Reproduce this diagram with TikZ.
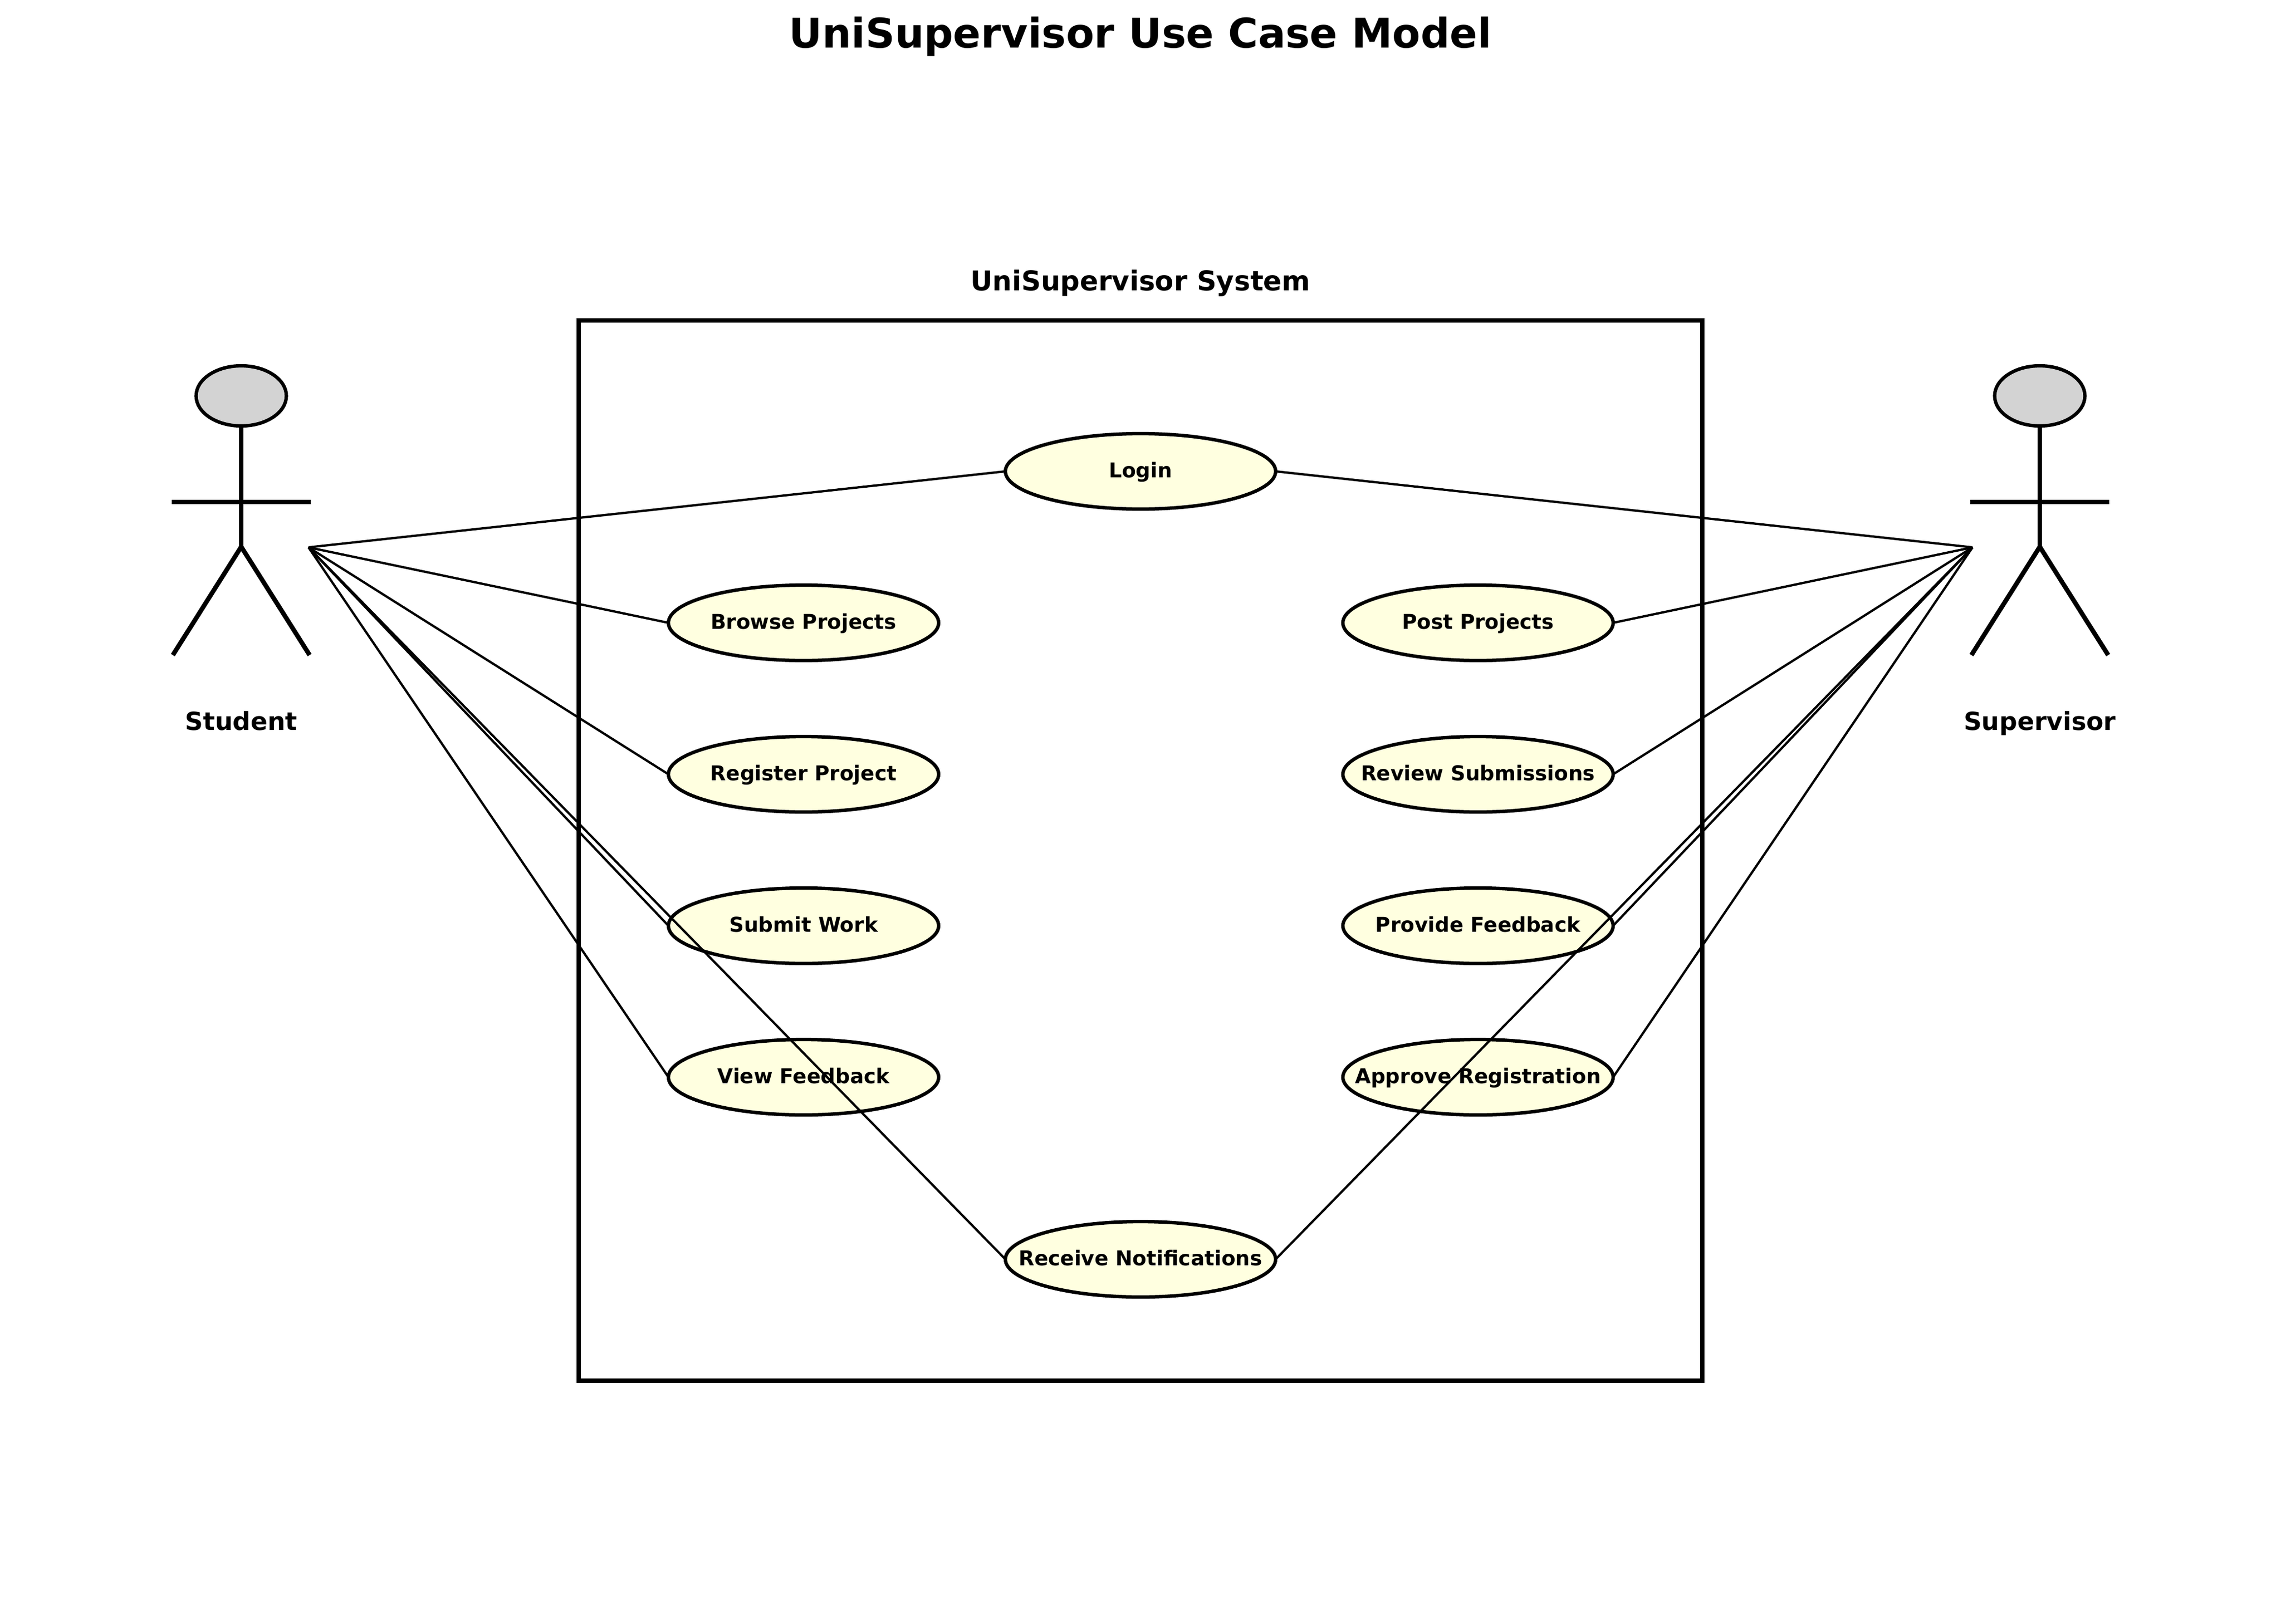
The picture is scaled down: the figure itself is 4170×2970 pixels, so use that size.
\documentclass[tikz,border=0pt]{standalone}
\usepackage{fontspec}
\usetikzlibrary{shapes.geometric}
\setmainfont{DejaVu Sans}
\definecolor{caseyellow}{HTML}{FFFFE0}
\definecolor{headgray}{HTML}{D3D3D3}
\tikzset{
  x=0.24bp, y=-0.24bp,
  usecase/.style={ellipse, draw=black, fill=caseyellow, line width=1.5bp, inner sep=0pt, outer sep=0pt,
    minimum width=118.56bp, minimum height=33.12bp},
  casetext/.style={font=\fontsize{9}{11}\selectfont\bfseries, inner sep=0pt, anchor=base, yshift=-2.76bp},
  head/.style={ellipse, draw=black, fill=headgray, line width=1.5bp, inner sep=0pt, outer sep=0pt,
    minimum width=39.6bp, minimum height=26.4bp},
  sysbox/.style={rectangle, draw=black, line width=2bp, inner sep=0pt, outer sep=0pt,
    minimum width=492.96bp, minimum height=465.36bp},
  limb/.style={draw=black, line width=2bp},
  assoc/.style={draw=black, line width=1bp},
  lab/.style={font=\fontsize{11}{13}\selectfont\bfseries, inner sep=0pt, anchor=base},
  syslab/.style={font=\fontsize{12}{14}\selectfont\bfseries, inner sep=0pt},
  titlelab/.style={font=\fontsize{18}{22}\selectfont\bfseries, inner sep=0pt}
}
\begin{document}
\begin{tikzpicture}
\useasboundingbox (0,0) rectangle (4170,2970);
\fill[white] (0,0) rectangle (4170,2970);
\node[titlelab] (title) at (2085,67) {UniSupervisor Use Case Model};
\node[syslab] (systitle) at (2085,518) {UniSupervisor System};
\node[sysbox] (system) at (2085,1555.5) {};
% use cases
\node[usecase] (login) at (2085,862) {};
\node[usecase] (browse) at (1469,1139) {};
\node[usecase] (register) at (1469,1416) {};
\node[usecase] (submit) at (1469,1693) {};
\node[usecase] (view) at (1469,1970) {};
\node[usecase] (post) at (2702,1139) {};
\node[usecase] (review) at (2702,1416) {};
\node[usecase] (provide) at (2702,1693) {};
\node[usecase] (approve) at (2702,1970) {};
\node[usecase] (notify) at (2085,2303) {};
% student
\node[head] (shead) at (441,724) {};
\coordinate (sneck) at (441,776);
\coordinate (ship) at (441,1000);
\coordinate (slarm) at (314,918);
\coordinate (srarm) at (568,918);
\coordinate (slleg) at (316,1198);
\coordinate (srleg) at (566,1198);
\coordinate (sport) at (564,1001);
\draw[limb] (sneck) -- (ship);
\draw[limb] (slarm) -- (srarm);
\draw[limb] (slleg) -- (ship) -- (srleg);
\node[lab] (slabel) at (441,1335) {Student};
% supervisor
\node[head] (thead) at (3729,724) {};
\coordinate (tneck) at (3729,776);
\coordinate (thip) at (3729,1000);
\coordinate (tlarm) at (3602,918);
\coordinate (trarm) at (3856,918);
\coordinate (tlleg) at (3604,1198);
\coordinate (trleg) at (3854,1198);
\coordinate (tport) at (3606,1001);
\draw[limb] (tneck) -- (thip);
\draw[limb] (tlarm) -- (trarm);
\draw[limb] (tlleg) -- (thip) -- (trleg);
\node[lab] (tlabel) at (3729,1335) {Supervisor};
% associations
\foreach \c in {login,browse,register,submit,view,notify}
  \draw[assoc] (sport) -- (\c.west);
\foreach \c in {login,post,review,provide,approve,notify}
  \draw[assoc] (tport) -- (\c.east);
% use case names
\node[casetext] (logintext) at (login.center) {Login};
\node[casetext] (browsetext) at (browse.center) {Browse Projects};
\node[casetext] (registertext) at (register.center) {Register Project};
\node[casetext] (submittext) at (submit.center) {Submit Work};
\node[casetext] (viewtext) at (view.center) {View Feedback};
\node[casetext] (posttext) at (post.center) {Post Projects};
\node[casetext] (reviewtext) at (review.center) {Review Submissions};
\node[casetext] (providetext) at (provide.center) {Provide Feedback};
\node[casetext] (approvetext) at (approve.center) {Approve Registration};
\node[casetext] (notifytext) at (notify.center) {Receive Notifications};
\end{tikzpicture}
\end{document}
